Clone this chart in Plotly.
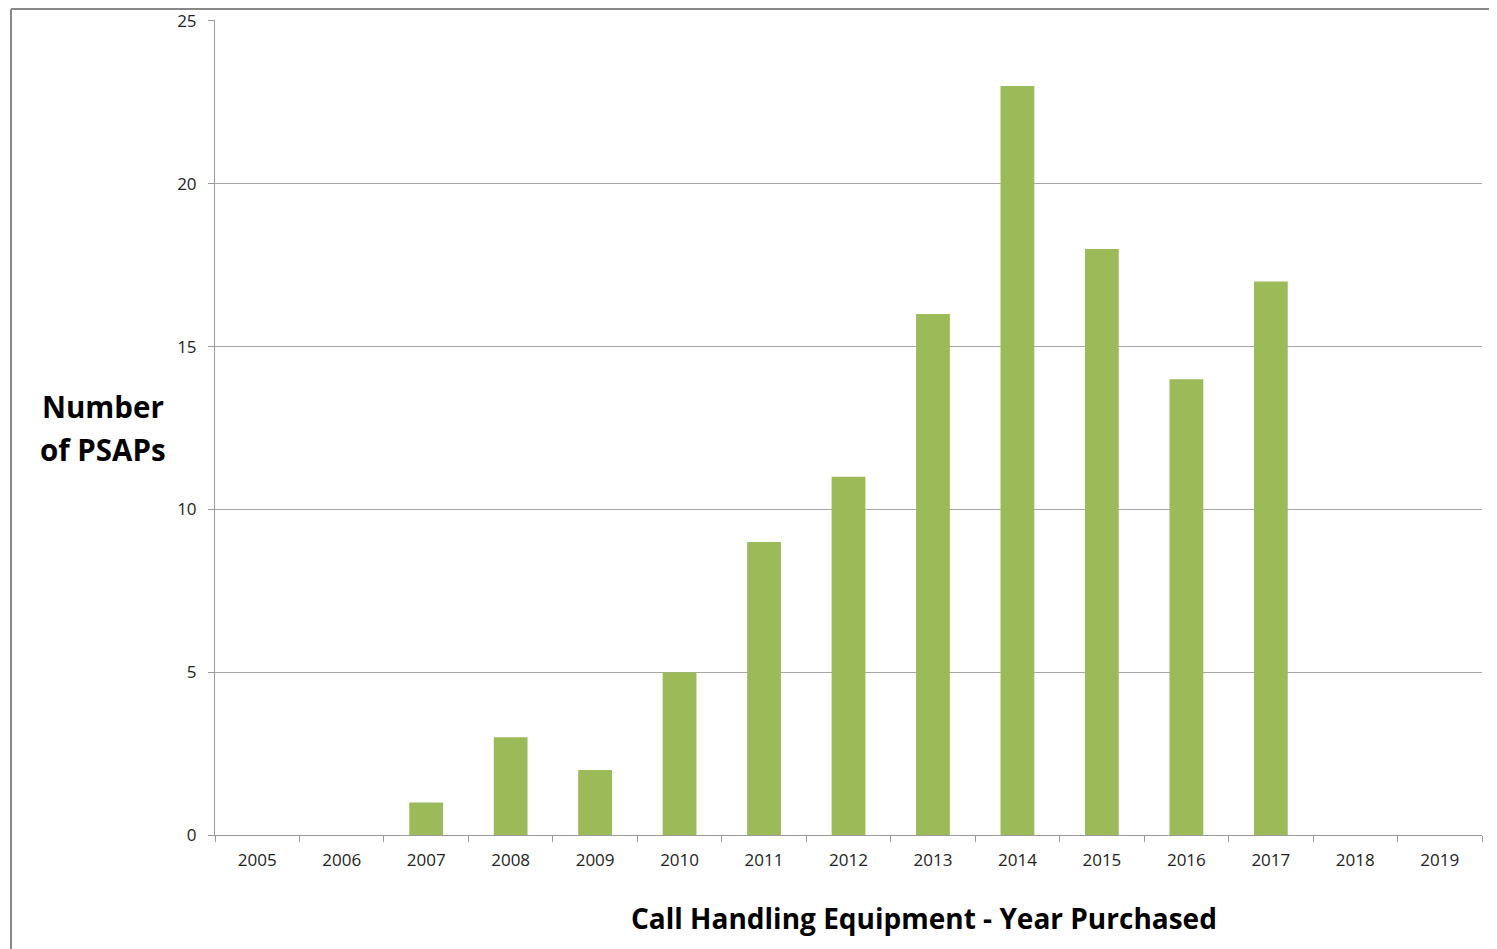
import plotly.graph_objects as go

years = ["2005", "2006", "2007", "2008", "2009", "2010", "2011", "2012",
         "2013", "2014", "2015", "2016", "2017", "2018", "2019"]
counts = [0, 0, 1, 3, 2, 5, 9, 11, 16, 23, 18, 14, 17, 0, 0]
y_ticks = [0, 5, 10, 15, 20, 25]

x_title = "Call Handling Equipment - Year Purchased"
y_title_lines = ["Number", "of PSAPs"]

FONT = "Open Sans"

fig = go.Figure(go.Bar(x=years, y=counts, marker=dict(color="#9BBB59", line=dict(width=0)),
                       hoverinfo="x+y"))

fig.update_layout(
    width=1489, height=941,
    margin=dict(l=207, r=15, t=12, b=114, autoexpand=False),
    paper_bgcolor="white", plot_bgcolor="white",
    bargap=0.6,
    showlegend=False,
    font=dict(family=FONT, color="#222222", size=17),
    xaxis=dict(
        type="category", tickson="boundaries", ticks="outside", ticklen=6,
        tickcolor="#9a9a9a", showline=True, linecolor="#9a9a9a", linewidth=1,
        showgrid=False, tickfont=dict(size=17, family=FONT, color="#222222"),
        ticklabelstandoff=10, automargin=False,
    ),
    yaxis=dict(
        range=[0, 25.03], tickvals=y_ticks, ticks="outside", ticklen=6,
        tickcolor="#9a9a9a", showline=True, linecolor="#9a9a9a", linewidth=1,
        showgrid=True, gridcolor="#a6a6a6", gridwidth=1, zeroline=False,
        tickfont=dict(size=17, family=FONT, color="#222222"), ticklabelstandoff=8,
        ticklabeloverflow="allow", automargin=False,
    ),
)

fig.add_annotation(text="<b>" + x_title + "</b>", xref="paper", yref="paper",
                   x=0.5596, y=-0.1018, xanchor="center", yanchor="middle", showarrow=False,
                   font=dict(size=28, family=FONT, color="black"))
for txt, yy in zip(y_title_lines, [0.5252, 0.4724]):
    fig.add_annotation(text="<b>" + txt + "</b>", xref="paper", yref="paper",
                       x=-0.0884, y=yy, xanchor="center", yanchor="middle", showarrow=False,
                       font=dict(size=29.5, family=FONT, color="black"))

# outer chart-area border (left and top edges visible)
fig.add_shape(type="line", xref="paper", yref="paper", x0=-0.161, x1=-0.161,
              y0=1.0135, y1=-0.2, line=dict(color="#888888", width=2))
fig.add_shape(type="line", xref="paper", yref="paper", x0=-0.161, x1=1.02,
              y0=1.0135, y1=1.0135, line=dict(color="#888888", width=2))

fig.write_html("out.html")
